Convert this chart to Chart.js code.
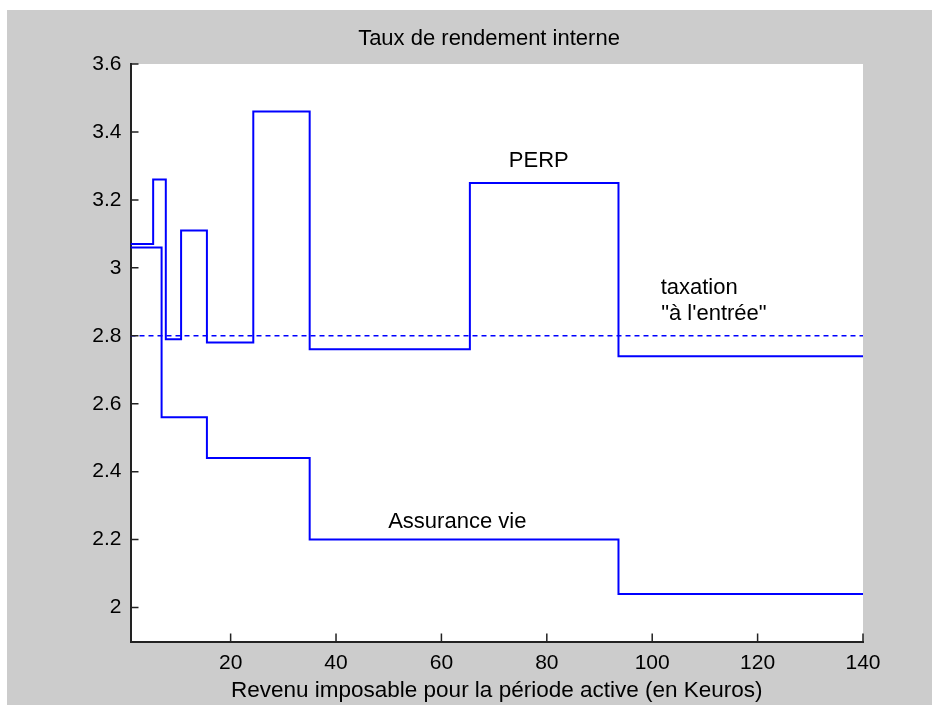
<!DOCTYPE html>
<html>
<head>
<meta charset="utf-8">
<title>Taux de rendement interne</title>
<script src="https://cdn.jsdelivr.net/npm/chart.js@4.4.1/dist/chart.umd.min.js"></script>
<style>
  html, body { margin: 0; padding: 0; background: #fff; }
  #wrap { position: relative; width: 939px; height: 711px; }
</style>
</head>
<body>
<div id="wrap"><canvas id="tri" width="939" height="711"></canvas></div>
<script>
// paliers de revenu (Keuros) et taux
const perpX = [1, 5.3, 7.7, 10.6, 15.5, 24.3, 35, 65.4, 93.6, 140];
const perpY = [3.07, 3.26, 2.79, 3.11, 2.78, 3.46, 2.76, 3.25, 2.74, 2.74];
const avX = [1, 6.9, 15.5, 35, 93.6, 140];
const avY = [3.06, 2.56, 2.44, 2.2, 2.04, 2.04];
const entreeX = [1, 140];
const entreeY = [2.8, 2.8];
const xTicks = [20, 40, 60, 80, 100, 120, 140];
const yTicks = [2, 2.2, 2.4, 2.6, 2.8, 3, 3.2, 3.4, 3.6];

const FONT = '"Liberation Sans", Arial, Helvetica, sans-serif';
const BLUE = '#0000ff';

// textes posés dans le repère des données
const notes = [
  { text: 'PERP', x: 72.8, y: 3.296 },
  { text: 'taxation', x: 101.6, y: 2.922 },
  { text: '"à l\'entrée"', x: 101.7, y: 2.846 },
  { text: 'Assurance vie', x: 49.9, y: 2.233 }
];

const toPoints = (xs, ys) => xs.map((v, i) => ({ x: v, y: ys[i] }));

// fond gris, zone blanche, graduations vers l'intérieur, textes
const matlabLook = {
  id: 'matlabLook',
  beforeDraw(chart) {
    const { ctx, chartArea: a } = chart;
    ctx.save();
    ctx.fillStyle = '#cccccc';
    ctx.fillRect(7, 10, 925, 695);
    ctx.fillStyle = '#ffffff';
    ctx.fillRect(a.left, a.top, a.right - a.left, a.bottom - a.top);
    ctx.restore();
  },
  afterDraw(chart) {
    const { ctx, chartArea: a } = chart;
    const x = chart.scales.x;
    const y = chart.scales.y;
    ctx.save();
    ctx.strokeStyle = '#222';
    ctx.lineWidth = 1.5;
    ctx.beginPath();
    xTicks.forEach(v => {
      const px = x.getPixelForValue(v);
      ctx.moveTo(px, a.bottom);
      ctx.lineTo(px, a.bottom - 8);
    });
    yTicks.forEach(v => {
      const py = y.getPixelForValue(v);
      ctx.moveTo(a.left, py);
      ctx.lineTo(a.left + 8, py);
    });
    ctx.stroke();

    ctx.fillStyle = '#000';
    ctx.font = '22px ' + FONT;
    ctx.textBaseline = 'alphabetic';
    ctx.textAlign = 'center';
    ctx.fillText('Taux de rendement interne', 489, 45);
    ctx.textAlign = 'left';
    notes.forEach(n => {
      ctx.fillText(n.text, x.getPixelForValue(n.x), y.getPixelForValue(n.y));
    });
    ctx.restore();
  }
};

new Chart(document.getElementById('tri'), {
  type: 'line',
  data: {
    datasets: [
      {
        label: 'PERP',
        data: toPoints(perpX, perpY),
        stepped: true,
        borderColor: BLUE,
        borderWidth: 2,
        pointRadius: 0,
        fill: false
      },
      {
        label: 'Assurance vie',
        data: toPoints(avX, avY),
        stepped: true,
        borderColor: BLUE,
        borderWidth: 2,
        pointRadius: 0,
        fill: false
      },
      {
        label: "taxation à l'entrée",
        data: toPoints(entreeX, entreeY),
        borderColor: BLUE,
        borderWidth: 1.5,
        borderDash: [5, 4],
        pointRadius: 0,
        fill: false
      }
    ]
  },
  options: {
    responsive: false,
    animation: false,
    devicePixelRatio: 1,
    layout: { padding: { left: 0, top: 64, right: 76, bottom: 0 } },
    plugins: {
      legend: { display: false },
      tooltip: { enabled: false }
    },
    scales: {
      x: {
        type: 'linear',
        min: 1,
        max: 140,
        afterBuildTicks: s => { s.ticks = xTicks.map(v => ({ value: v })); },
        afterFit: s => { s.height = 69.5; },
        grid: { display: false },
        border: { display: true, color: '#222', width: 2 },
        ticks: {
          color: '#000',
          font: { family: FONT, size: 21 },
          padding: 1,
          maxRotation: 0,
          autoSkip: false
        },
        title: {
          display: true,
          text: 'Revenu imposable pour la période active (en Keuros)',
          color: '#000',
          font: { family: FONT, size: 22.5 },
          padding: { top: 0, bottom: 7 }
        }
      },
      y: {
        type: 'linear',
        min: 1.9,
        max: 3.6,
        afterBuildTicks: s => { s.ticks = yTicks.map(v => ({ value: v })); },
        afterFit: s => { s.width = 130.5; },
        grid: { display: false },
        border: { display: true, color: '#222', width: 2 },
        ticks: {
          color: '#000',
          font: { family: FONT, size: 21 },
          padding: 1,
          callback: v => String(+v.toFixed(1))
        }
      }
    }
  },
  plugins: [matlabLook]
});
</script>
</body>
</html>
